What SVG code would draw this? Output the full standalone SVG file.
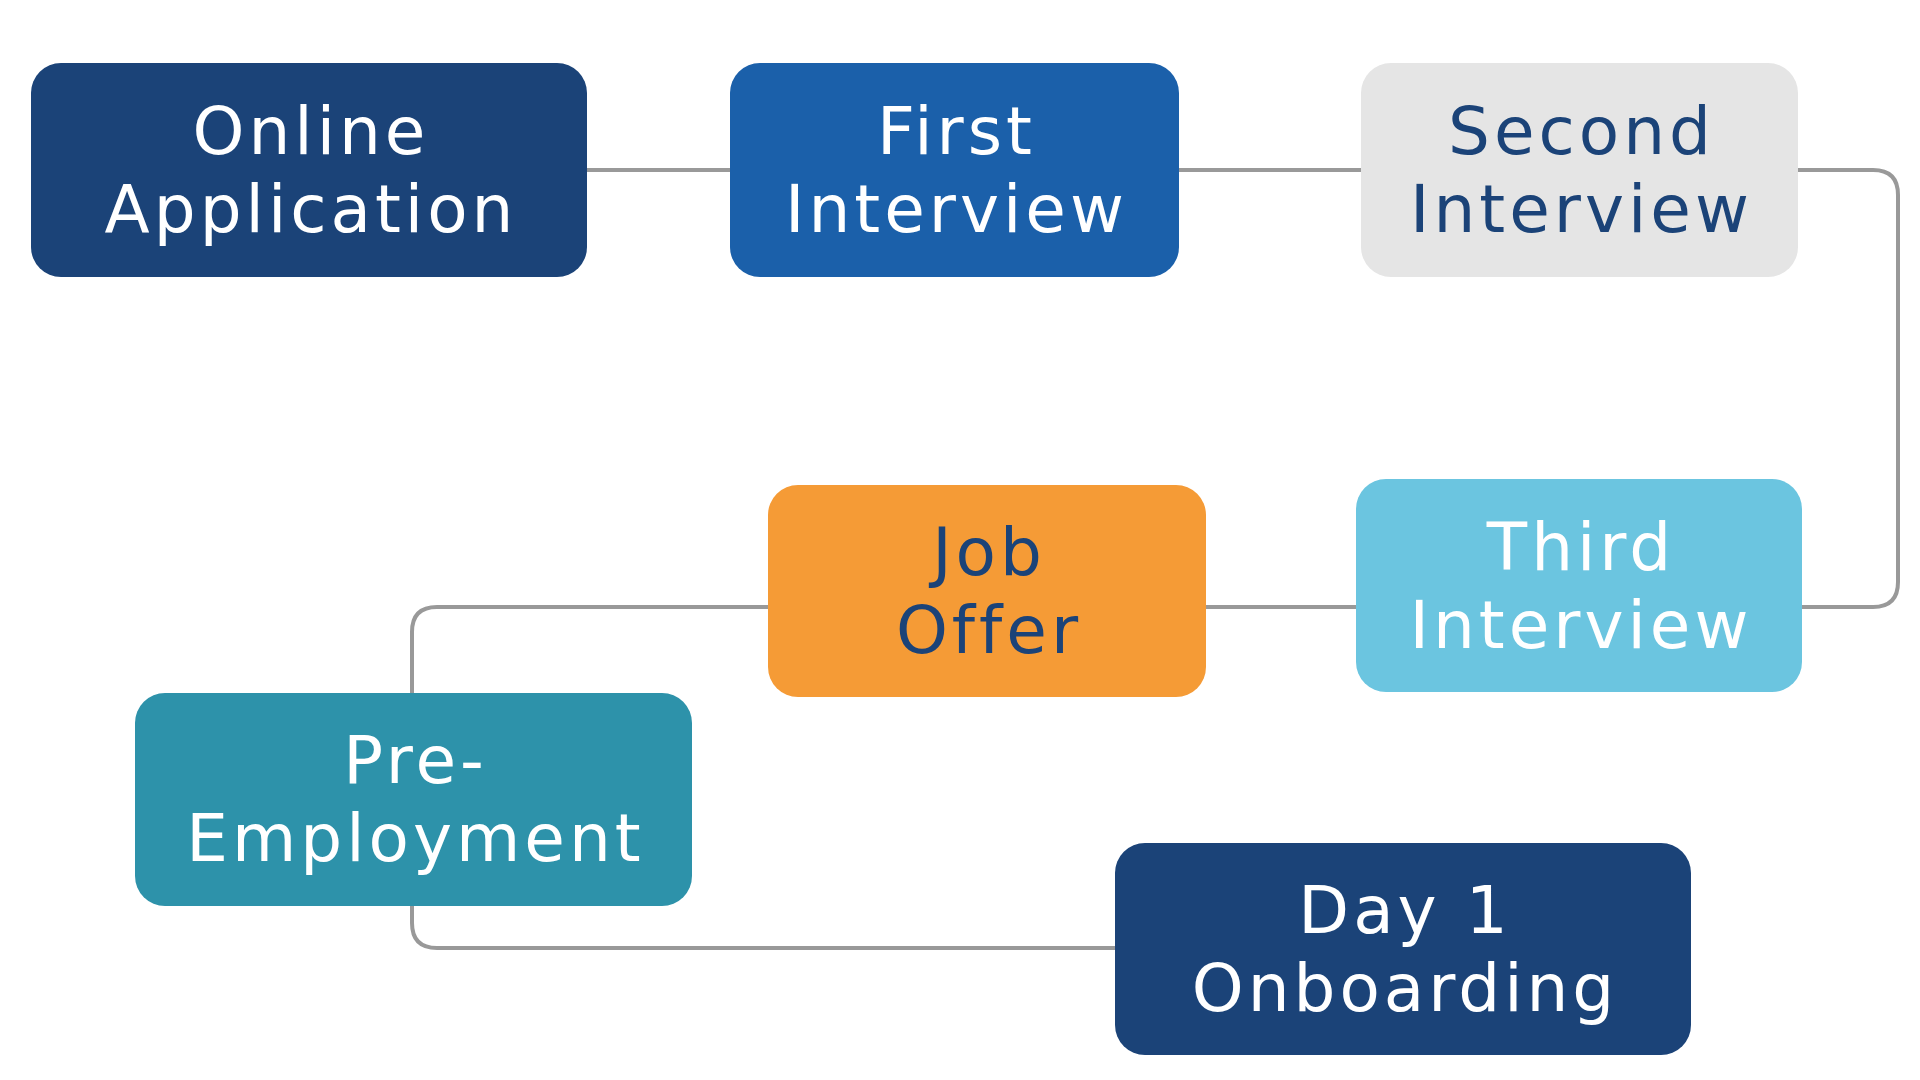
<svg xmlns="http://www.w3.org/2000/svg" width="1920" height="1080" viewBox="0 0 1920 1080">
<style>
.box{stroke:none}
.lbl{font-family:"DejaVu Sans","Noto Sans",sans-serif;font-size:66px;letter-spacing:4px;text-anchor:middle}
.w{fill:#ffffff}
.n{fill:#1B4378}
.conn{fill:none;stroke:#999999;stroke-width:4}
</style>
<rect width="1920" height="1080" fill="#ffffff"/>
<g id="connectors">
<path class="conn" d="M587,170 H730"/>
<path class="conn" d="M1179,170 H1361"/>
<path class="conn" d="M1798,170 H1873 Q1898,170 1898,195 V582 Q1898,607 1873,607 H1802"/>
<path class="conn" d="M1206,607 H1356"/>
<path class="conn" d="M768,607 H437 Q412,607 412,632 V693"/>
<path class="conn" d="M412,906 V923 Q412,948 437,948 H1115"/>
</g>
<g id="online-application">
<rect class="box" x="31" y="63" width="556" height="214" rx="30" fill="#1B4378"/>
<text class="lbl w" x="311" y="154">Online</text>
<text class="lbl w" x="311" y="232">Application</text>
</g>
<g id="first-interview">
<rect class="box" x="730" y="63" width="449" height="214" rx="30" fill="#1B60AA"/>
<text class="lbl w" x="956.5" y="154">First</text>
<text class="lbl w" x="956.5" y="232">Interview</text>
</g>
<g id="second-interview">
<rect class="box" x="1361" y="63" width="437" height="214" rx="30" fill="#E5E5E5"/>
<text class="lbl n" x="1581.5" y="154">Second</text>
<text class="lbl n" x="1581.5" y="232">Interview</text>
</g>
<g id="third-interview">
<rect class="box" x="1356" y="479" width="446" height="213" rx="30" fill="#6BC5E0"/>
<text class="lbl w" x="1581" y="570">Third</text>
<text class="lbl w" x="1581" y="648">Interview</text>
</g>
<g id="job-offer">
<rect class="box" x="768" y="485" width="438" height="212" rx="30" fill="#F59B36"/>
<text class="lbl n" x="989" y="575">Job</text>
<text class="lbl n" x="989" y="653">Offer</text>
</g>
<g id="pre-employment">
<rect class="box" x="135" y="693" width="557" height="213" rx="30" fill="#2D92AA"/>
<text class="lbl w" x="415.5" y="783">Pre-</text>
<text class="lbl w" x="415.5" y="861">Employment</text>
</g>
<g id="day1-onboarding">
<rect class="box" x="1115" y="843" width="576" height="212" rx="30" fill="#1B4378"/>
<text class="lbl w" x="1405" y="933">Day 1</text>
<text class="lbl w" x="1405" y="1011">Onboarding</text>
</g>
</svg>
